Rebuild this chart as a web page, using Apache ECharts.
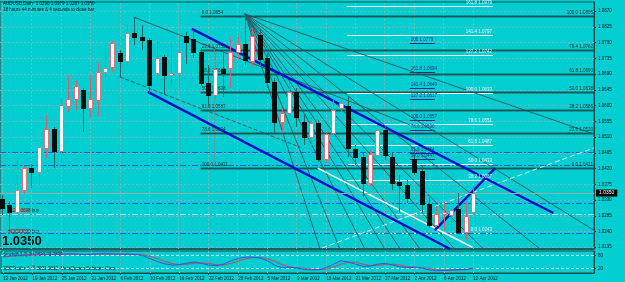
<!DOCTYPE html>
<html><head><meta charset="utf-8">
<script src="https://cdn.jsdelivr.net/npm/echarts@6/dist/echarts.min.js"></script>
<style>html,body{margin:0;padding:0;background:#00CED1;}#c{width:625px;height:282px;}</style>
</head><body><div id="c"></div>
<script>
// ---------- data ----------
const dateLabels = ['13 Jan 2012','19 Jan 2012','25 Jan 2012','31 Jan 2012','6 Feb 2012','10 Feb 2012','16 Feb 2012','22 Feb 2012','28 Feb 2012','5 Mar 2012','9 Mar 2012','15 Mar 2012','21 Mar 2012','27 Mar 2012','2 Apr 2012','6 Apr 2012','12 Apr 2012'];
const dateTickBars = [0,4,8,12,16,20,24,28,32,36,40,44,48,52,56,60,64];
const priceTicks = [1.0195,1.0240,1.0285,1.0330,1.0375,1.0420,1.0465,1.0510,1.0555,1.0600,1.0645,1.0690,1.0735,1.0780,1.0825,1.0870];
const openP = [1.0333,1.0316,1.0296,1.0358,1.0421,1.0410,1.0479,1.0533,1.0470,1.0599,
1.0619,1.0644,1.0593,1.0616,1.0696,1.0710,1.0750,1.0727,1.0807,1.0796,
1.0787,1.0693,1.0739,1.0687,1.0693,1.0799,1.0790,1.0753,1.0664,1.0630,
1.0704,1.0707,1.0753,1.0776,1.0727,1.0802,1.0736,1.0667,1.0553,1.0579,
1.0639,1.0553,1.0510,1.0550,1.0447,1.0521,1.0593,1.0599,1.0476,1.0453,
1.0378,1.0459,1.0530,1.0453,1.0381,1.0373,1.0447,1.0413,1.0318,1.0258,
1.0290,1.0287,1.0304,1.0238,1.0296];
const closeP = [1.0307,1.0296,1.0358,1.0421,1.0410,1.0481,1.0533,1.0470,1.0601,1.0619,
1.0656,1.0593,1.0619,1.0696,1.0707,1.0779,1.0727,1.0807,1.0796,1.0787,
1.0659,1.0736,1.0687,1.0693,1.0753,1.0782,1.0753,1.0664,1.0630,1.0704,
1.0693,1.0753,1.0776,1.0730,1.0799,1.0733,1.0667,1.0553,1.0579,1.0639,
1.0567,1.0510,1.0550,1.0447,1.0519,1.0587,1.0607,1.0479,1.0453,1.0378,
1.0461,1.0530,1.0459,1.0378,1.0373,1.0336,1.0410,1.0318,1.0258,1.0290,
1.0296,1.0301,1.0238,1.0284,1.0350];
const lowP = [1.0287,1.0238,1.0290,1.0347,1.0364,1.0373,1.0450,1.0421,1.0436,1.0581,
1.0587,1.0524,1.0567,1.0567,1.0679,1.0696,1.0682,1.0702,1.0773,1.0759,
1.0636,1.0673,1.0630,1.0659,1.0650,1.0719,1.0736,1.0656,1.0601,1.0616,
1.0624,1.0650,1.0730,1.0716,1.0710,1.0710,1.0650,1.0521,1.0521,1.0559,
1.0539,1.0487,1.0481,1.0438,1.0436,1.0513,1.0581,1.0453,1.0430,1.0338,
1.0367,1.0450,1.0444,1.0358,1.0293,1.0321,1.0401,1.0293,1.0250,1.0253,
1.0244,1.0244,1.0235,1.0215,1.0287];
const highP = [1.0344,1.0327,1.0444,1.0427,1.0433,1.0484,1.0573,1.0539,1.0622,1.0687,
1.0673,1.0650,1.0687,1.0725,1.0782,1.0785,1.0759,1.0833,1.0853,1.0830,
1.0793,1.0782,1.0745,1.0782,1.0807,1.0810,1.0816,1.0765,1.0716,1.0750,
1.0759,1.0796,1.0802,1.0862,1.0822,1.0816,1.0750,1.0679,1.0593,1.0667,
1.0650,1.0573,1.0567,1.0559,1.0521,1.0616,1.0630,1.0624,1.0487,1.0467,
1.0473,1.0544,1.0541,1.0464,1.0401,1.0387,1.0473,1.0430,1.0338,1.0313,
1.0324,1.0324,1.0350,1.0324,1.0369];
const stochMain = [76,78,80,82,83,84,85,84,86,87, 86,84,85,87,88,86,85,86,84,80,
65,52,42,36,38,45,50,44,36,33, 40,55,66,72,72,68,55,35,24,26,
22,16,14,15,25,40,56,50,40,30, 32,40,44,36,28,24,26,22,14,10, 12,14,15,16,20.08];
const stochSignal = [74,76,78,80,81,82,83,84,84,85, 86,85,85,85,86,87,86,86,85,83,
76,66,53,43,38,40,44,46,43,38, 36,43,54,64,70,71,65,53,38,28,
24,21,17,15,18,27,40,49,49,40, 34,34,39,40,36,29,26,24,21,15, 12,12,14,15,23.78];
const stochLevels = [20,80];
const lastPrice = 1.0350;

// chart objects in data coordinates [bar index, price]
const blueChannel = [[[25.8,1.0819],[74.9,1.0293]],[[19.8,1.0639],[60.9,1.0190]],[[58.8,1.0244],[67.0,1.0421]]];
const fanOrigin = [33,1.0862];
const fanEnds = [[80.4,1.0519],[80.4,1.0244],[73.1,1.0190],[65.4,1.0190],[61.5,1.0190],[56.8,1.0190],[54.1,1.0190],[52.0,1.0190],[49.3,1.0190],[45.9,1.0190],[43.2,1.0190]];
const thinTrend = [[[17.9,1.0853],[55.4,1.0545]]];
const dashedTrend = [[[16.0,1.0682],[40.5,1.0481]]];
const whiteSolid = [[[42.9,1.0421],[63.9,1.0195]]];
const whiteDashed = [[[43.5,1.0193],[80.4,1.0479]]];
const fibLevels = [1.0855,1.0757,1.0690,1.0638,1.0587,1.0520,1.0421];
const fibLeftText = ['0.0 1.0854','23.6 1.0752','38.2 1.0689','50.0 1.0638','61.8 1.0587','78.6 1.0524','100.0 1.0421'];
const fibRightText = ['100.0 1.0855','76.4 1.0762','61.8 1.0690','50.0 1.0638','38.2 1.0586','23.6 1.0520','0.0 1.0421'];
const fibStartBar = 27;
const extLevels = [1.0885,1.0802,1.0745,1.0636,1.0547,1.0487,1.0433,1.0387,1.0235];
const extText = ['161.8 1.0979','141.4 1.0797','127.2 1.0742','100.0 1.0633','78.6 1.0551','61.8 1.0487','50.0 1.0433','38.2 1.0387','0.0 1.0243'];
const extBars = [46.9,66.7];
const blueFibLevels = [1.0779,1.0694,1.0649,1.0617,1.0557,1.0530,1.0464,1.0447];
const blueFibText = ['200 1.0779','161.8 1.0694','141.4 1.0649','127.2 1.0617','100.0 1.0557','78.6 1.0530','61.8 1.0464','50.0 1.0447'];
const blueFibBars = [55.4,58.8];
const orderLevels = [1.0467,1.0430,1.0321,1.0235];
const stopLevels = [1.0290];
const fibConnectors = [[[28.8,1.0767],[28.8,1.0416]],[[41.8,1.0573],[41.8,1.0190]],[[46.9,1.0630],[46.9,1.0341]]];
const leftFibExtra = [[1.0304,'127.2 1.0304'],[1.0242,'141.4 1.0242']];

// ---------- chart ----------
const XMIN = -0.272, XMAX = 80.43;
const FONT = 'Liberation Sans';
const chart = echarts.init(document.getElementById('c'), null, {renderer:'canvas'});

const candleData = openP.map((o,i)=>[i,o,closeP[i],lowP[i],highP[i]]);
function renderCandle(params, api){
  const i=api.value(0), o=api.value(1), c=api.value(2), l=api.value(3), h=api.value(4);
  const po=api.coord([i,o]), pc=api.coord([i,c]), pl=api.coord([i,l]), ph=api.coord([i,h]);
  const cx=Math.round(po[0]);
  const bull=c>=o;
  const top=Math.round(Math.min(po[1],pc[1])), bot=Math.round(Math.max(po[1],pc[1]));
  const wick={type:'line',shape:{x1:cx+0.5,y1:Math.round(ph[1]),x2:cx+0.5,y2:Math.round(pl[1])},style:{stroke:bull?'#d8606a':'#2a6464',lineWidth:1}};
  const body = bull
    ? {type:'rect',shape:{x:cx-1.5,y:top+0.5,width:4,height:Math.max(1,bot-top)},style:{fill:'#ffffff',stroke:'#e0707a',lineWidth:1}}
    : {type:'rect',shape:{x:cx-2,y:top,width:5,height:Math.max(1,bot-top+1)},style:{fill:'#050d0d'}};
  return {type:'group',children:[wick,body]};
}
function seg(pairs, names){ return pairs.map((p,k)=>[{coord:p[0],name:names?names[k]:''},{coord:p[1]}]); }
function mlSeries(xi, data, lineStyle, label, z){
  const col = lineStyle.color;
  return {type:'line',xAxisIndex:xi,yAxisIndex:xi,data:[],silent:true,z:z||2,color:col,itemStyle:{color:col},lineStyle:{color:col},
    markLine:{silent:true,symbol:['none','none'],animation:false,precision:6,
      label:Object.assign({show:!!label,formatter:'{b}',fontSize:4.5,fontFamily:FONT,distance:1},label||{}),
      lineStyle:Object.assign({width:1,opacity:1,type:'solid'},lineStyle),emphasis:{disabled:true},data:data}};
}
const gridColor='#74b8ba';
const series = [
  mlSeries(0, priceTicks.map(v=>({yAxis:v})), {color:gridColor,type:[2,2]}, null, 1),
  mlSeries(0, dateTickBars.map(v=>({xAxis:v})), {color:gridColor,type:[2,2]}, null, 1),
  mlSeries(1, dateTickBars.map(v=>({xAxis:v})), {color:gridColor,type:[2,2]}, null, 1),
  mlSeries(1, stochLevels.map(v=>({yAxis:v})), {color:'#c4e6e6',type:[3,2]}, null, 1),
  mlSeries(0, seg(fibLevels.map(v=>[[fibStartBar,v],[XMAX,v]]), fibLeftText), {color:'#1d5454',width:1.3}, {position:'insideStartTop',color:'#0c3030'}, 3),
  mlSeries(0, seg(fibLevels.map(v=>[[fibStartBar,v],[XMAX,v]]), fibRightText), {color:'#1d5454',width:1.3}, {position:'insideEndTop',color:'#0c3030'}, 3),
  mlSeries(0, seg(leftFibExtra.map(e=>[[fibStartBar,e[0]],[fibStartBar+0.01,e[0]]]), leftFibExtra.map(e=>e[1])), {color:'#1d5454',opacity:0}, {position:'insideStartTop',color:'#0c3030'}, 3),
  mlSeries(0, seg(extLevels.map(v=>[[extBars[0],v],[extBars[1],v]]), extText), {color:'#e8fafa',width:1}, {position:'insideEndTop',color:'#e8fafa'}, 3),
  mlSeries(0, seg(blueFibLevels.map(v=>[[blueFibBars[0],v],[blueFibBars[1],v]]), blueFibText), {color:'#1b2f8a',width:1}, {position:'insideStartTop',color:'#1b2f8a'}, 3),
  mlSeries(0, orderLevels.map(v=>({yAxis:v})), {color:'#1f5fd6',type:[6,2,2,2]}, null, 3),
  mlSeries(0, stopLevels.map(v=>({yAxis:v})), {color:'#b6e6e6',type:[6,2,2,2]}, null, 3),
  mlSeries(0, seg(fanEnds.map(e=>[fanOrigin,e])), {color:'#2b5560',width:0.9}, null, 3),
  mlSeries(0, seg(thinTrend), {color:'#2b5560',width:0.9}, null, 3),
  mlSeries(0, seg(dashedTrend), {color:'#2b5560',width:0.9,type:[4,2]}, null, 3),
  mlSeries(0, seg(fibConnectors), {color:'#e05070',width:1,type:[1,2]}, null, 3),
  mlSeries(0, seg(whiteSolid), {color:'#ffffff',width:1.5}, null, 4),
  mlSeries(0, seg(whiteDashed), {color:'#e8fafa',width:1,type:[5,3]}, null, 4),
  mlSeries(0, seg(blueChannel), {color:'#0c0cc8',width:2.4}, null, 4),
  mlSeries(0, [{yAxis:lastPrice,name:lastPrice.toFixed(4)}], {color:'#a2a8a8',width:1},
    {position:'end',color:'#ffffff',backgroundColor:'#000000',fontSize:5,padding:[1,3,1,3],distance:2}, 5),
  {type:'custom',xAxisIndex:0,yAxisIndex:0,renderItem:renderCandle,data:candleData,
   encode:{x:0,y:[1,2,3,4]},clip:true,z:6,silent:true},
  {type:'line',xAxisIndex:1,yAxisIndex:1,data:stochSignal.map((v,i)=>[i,v]),showSymbol:false,color:'#d04848',lineStyle:{color:'#d04848',width:1},z:5,silent:true},
  {type:'line',xAxisIndex:1,yAxisIndex:1,data:stochMain.map((v,i)=>[i,v]),showSymbol:false,color:'#2b55e8',lineStyle:{color:'#2b55e8',width:1},z:5,silent:true}
];

const labelStyle = {fontSize:4.5,fontFamily:FONT,color:'#0d1a1a'};
const option = {
  animation:false,
  backgroundColor:'#00CED1',
  grid:[
    {left:0,top:2,width:594,height:247,show:true,borderColor:'#1a5252',borderWidth:1,backgroundColor:'transparent'},
    {left:0,top:251,width:594,height:22,show:true,borderColor:'#1a5252',borderWidth:1,backgroundColor:'transparent'}
  ],
  xAxis:[
    {gridIndex:0,type:'value',min:XMIN,max:XMAX,axisLine:{show:true,onZero:false,lineStyle:{color:'#1b6060',width:2}},axisTick:{show:false},axisLabel:{show:false},splitLine:{show:false}},
    {gridIndex:1,type:'value',min:XMIN,max:XMAX,axisLine:{show:true,onZero:false,lineStyle:{color:'#1a4a4a',width:1}},
     axisTick:{show:true,length:2,customValues:dateTickBars,lineStyle:{color:'#1a4a4a'}},
     axisLabel:Object.assign({show:true,customValues:dateTickBars,align:'left',margin:3,formatter:(v)=>dateLabels[dateTickBars.indexOf(Math.round(v))]||''},labelStyle),
     splitLine:{show:false}}
  ],
  yAxis:[
    {gridIndex:0,type:'value',position:'right',min:1.0190,max:1.0896,axisLine:{show:true,onZero:false,lineStyle:{color:'#1a4a4a'}},
     axisTick:{show:true,length:2,customValues:priceTicks,lineStyle:{color:'#1a4a4a'}},
     axisLabel:Object.assign({show:true,customValues:priceTicks,margin:4,formatter:(v)=>v.toFixed(4)},labelStyle),splitLine:{show:false}},
    {gridIndex:1,type:'value',position:'right',min:0,max:100,axisLine:{show:true,onZero:false,lineStyle:{color:'#1a4a4a'}},
     axisTick:{show:true,length:2,customValues:stochLevels,lineStyle:{color:'#1a4a4a'}},
     axisLabel:Object.assign({show:true,customValues:stochLevels,margin:4,formatter:(v)=>String(Math.round(v))},labelStyle),splitLine:{show:false}}
  ],
  graphic:[
    {type:'text',left:3,top:1,style:{text:'AUDUSD,Daily  1.0296 1.0369 1.0287 1.0350',font:'4.5px "Liberation Sans"',fill:'#0a1414'}},
    {type:'text',left:3,top:7.5,style:{text:'18 hours 44 minutes & 4 seconds to close bar',font:'4.5px "Liberation Sans"',fill:'#0a1414'}},
    {type:'rect',left:8,top:208,shape:{width:22,height:5},style:{fill:'#7a9a9a'}},
    {type:'text',left:8,top:208,style:{text:'#12010698 buy',font:'4.5px "Liberation Sans"',fill:'#1a3030'}},
    {type:'rect',left:8,top:229,shape:{width:22,height:5},style:{fill:'#7a9a9a'}},
    {type:'text',left:8,top:229,style:{text:'#12020900 buy',font:'4.5px "Liberation Sans"',fill:'#1a3030'}},
    {type:'text',left:2,top:235,style:{text:lastPrice.toFixed(4),font:'bold 13px "Liberation Sans"',fill:'#050a0a'}},
    {type:'text',left:3,top:252,style:{text:'Stoch(8,3,3) 20.0830 23.7839',font:'4.5px "Liberation Sans"',fill:'#0a1414'}},
    {type:'text',left:3,top:266,style:{text:'SDDTrader 4, \u00a9 2001-2012, MetaQuotes Software Corp.',font:'4.5px "Liberation Sans"',fill:'#0a1414'}}
  ],
  series:series
};
chart.setOption(option);
</script></body></html>
